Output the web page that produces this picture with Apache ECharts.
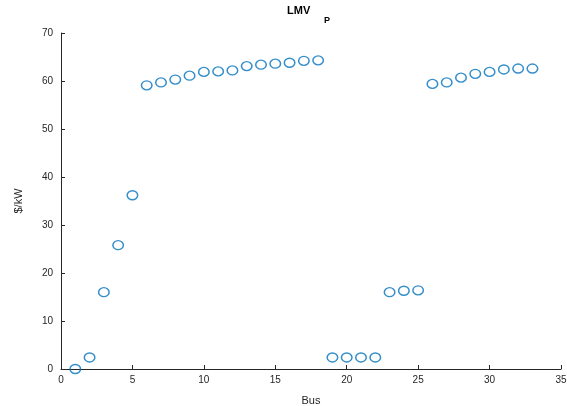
<!DOCTYPE html>
<html>
<head>
<meta charset="utf-8">
<script src="https://cdn.jsdelivr.net/npm/echarts@6/dist/echarts.min.js"></script>
<style>html,body{margin:0;padding:0;background:#fff;}#c{width:567px;height:406px;}</style>
</head>
<body>
<div id="c"></div>
<script>
const buses = [1,2,3,4,5,6,7,8,9,10,11,12,13,14,15,16,17,18,19,20,21,22,23,24,25,26,27,28,29,30,31,32,33];
const lmvP = [0,2.4,16.0,25.8,36.2,59.1,59.7,60.3,61.1,61.9,62.0,62.2,63.1,63.4,63.6,63.8,64.2,64.3,2.4,2.4,2.4,2.4,16.0,16.3,16.4,59.4,59.7,60.7,61.5,61.9,62.4,62.6,62.6];
const xTicks = {min:0,max:35,interval:5};
const yTicks = {min:0,max:70,interval:10};

const chart = echarts.init(document.getElementById('c'));
const axisColor = '#262626';
const font = 'Liberation Sans, Arial, sans-serif';
chart.setOption({
  animation:false,
  textStyle:{fontFamily:font},
  title:[
    {text:'LMV',left:287,top:5,padding:0,textStyle:{fontSize:11,fontWeight:'bold',color:'#000',fontFamily:font}},
    {text:'P',left:324,top:16,padding:0,textStyle:{fontSize:9,fontWeight:'bold',color:'#000',fontFamily:font}}
  ],
  grid:{left:61,right:6,top:33,bottom:37,containLabel:false,outerBoundsMode:'none'},
  xAxis:{type:'value',min:xTicks.min,max:xTicks.max,interval:xTicks.interval,
    name:'Bus',nameLocation:'middle',nameGap:26,
    nameTextStyle:{fontSize:11,color:axisColor,fontFamily:font},
    axisLine:{show:true,onZero:false,lineStyle:{color:axisColor,width:1}},
    axisTick:{show:true,inside:true,length:4,lineStyle:{color:axisColor}},
    axisLabel:{fontSize:10,color:axisColor,margin:6,fontFamily:font},
    splitLine:{show:false}},
  yAxis:{type:'value',min:yTicks.min,max:yTicks.max,interval:yTicks.interval,
    name:'$/kW',nameLocation:'middle',nameGap:37,nameRotate:90,
    nameTextStyle:{fontSize:11,color:axisColor,fontFamily:font},
    axisLine:{show:true,onZero:false,lineStyle:{color:axisColor,width:1}},
    axisTick:{show:true,inside:true,length:4,lineStyle:{color:axisColor}},
    axisLabel:{fontSize:10,color:axisColor,margin:8,fontFamily:font},
    splitLine:{show:false}},
  series:[{type:'scatter',data:buses.map((b,i)=>[b,lmvP[i]]),
    symbol:'circle',symbolSize:[10.5,9],
    itemStyle:{color:'rgba(0,0,0,0)',borderColor:'#0072BD',borderWidth:1.4}}]
});
</script>
</body>
</html>
